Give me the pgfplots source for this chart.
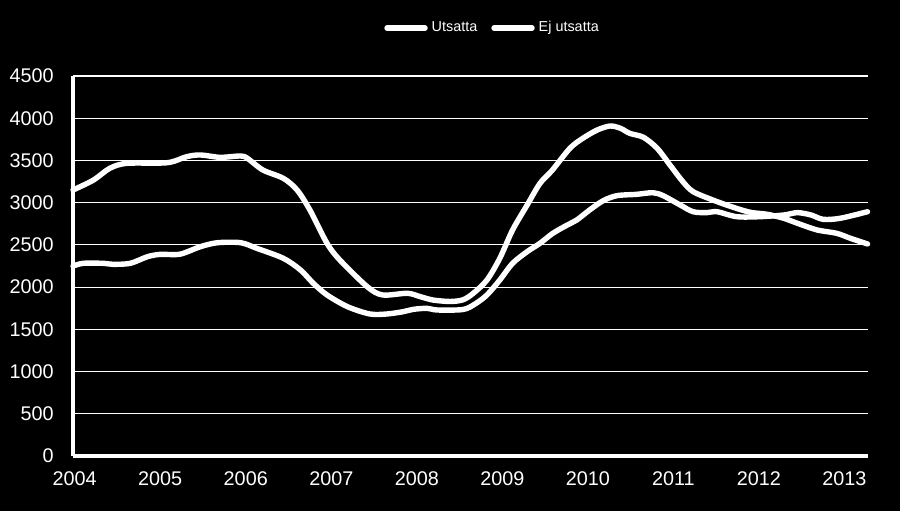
\documentclass[border=0pt]{standalone}
\usepackage{pgfplots}
\pgfplotsset{compat=1.18}
\usepackage{pgfplotstable}
\usepackage{fontspec}
\setmainfont{Liberation Sans}

% monthly series (x = year)
\pgfplotstableread{
x y
2003.98 3150
2004.22 3268
2004.41 3407
2004.61 3466
2005.08 3473
2005.31 3545
2005.47 3565
2005.70 3537
2005.94 3553
2006.02 3525
2006.20 3387
2006.44 3288
2006.60 3150
2006.75 2913
2006.95 2519
2007.10 2321
2007.42 2005
2007.60 1907
2007.89 1927
2008.04 1887
2008.19 1847
2008.39 1830
2008.54 1850
2008.66 1927
2008.82 2084
2008.97 2341
2009.12 2677
2009.29 2972
2009.44 3229
2009.58 3380
2009.79 3644
2009.94 3762
2010.11 3861
2010.26 3908
2010.38 3881
2010.49 3821
2010.65 3774
2010.81 3644
2010.96 3446
2011.11 3249
2011.23 3131
2011.46 3032
2011.70 2945
2011.90 2886
2012.10 2862
2012.29 2815
2012.45 2756
2012.68 2677
2012.91 2637
2013.07 2578
2013.27 2511
}\utsatta

\pgfplotstableread{
x y
2003.98 2250
2004.10 2282
2004.33 2282
2004.45 2270
2004.65 2282
2004.85 2360
2005.00 2388
2005.23 2390
2005.47 2479
2005.67 2526
2005.94 2526
2006.13 2459
2006.44 2341
2006.64 2203
2006.79 2045
2006.95 1907
2007.19 1768
2007.45 1682
2007.65 1682
2007.84 1709
2007.96 1737
2008.12 1749
2008.24 1729
2008.54 1735
2008.68 1800
2008.82 1907
2008.97 2084
2009.12 2282
2009.29 2420
2009.44 2519
2009.59 2637
2009.76 2736
2009.87 2795
2010.02 2913
2010.18 3024
2010.34 3083
2010.57 3099
2010.76 3118
2010.88 3083
2011.08 2972
2011.23 2893
2011.39 2882
2011.51 2893
2011.74 2834
2012.01 2834
2012.29 2854
2012.45 2882
2012.61 2854
2012.75 2803
2012.95 2815
2013.27 2893
}\ejutsatta

\begin{document}
\begin{tikzpicture}
\fill[black] (-36.5pt,-27.5pt) rectangle (413.5pt,228pt);
\begin{axis}[
    scale only axis,
    width=397.5pt, height=190pt,
    xmin=2003.98, xmax=2013.275,
    ymin=0, ymax=4500,
    xtick={2004,2005,...,2013},
    ytick={0,500,...,4500},
    /pgf/number format/1000 sep={},
    /pgf/number format/assume math mode=true,
    axis lines*=left,
    axis line style={-, white, line width=1.6pt},
    major tick length=0pt,
    ymajorgrids,
    grid style={white, line width=0.55pt},
    ticklabel style={text=white, font=\fontsize{9.9}{11}\selectfont},
    yticklabel style={inner sep=0pt, xshift=-9.5pt},
    xticklabel style={inner sep=0pt, yshift=-7.5pt},
    clip=false,
    legend columns=2,
    legend style={at={(0.529,1.126)}, anchor=center, draw=none, fill=none,
        text=white, font=\fontsize{7.2}{8}\selectfont,
        /tikz/every even column/.append style={column sep=5pt}},
    legend image code/.code={\draw[#1, line cap=round] (0pt,0pt) -- (19pt,0pt);},
]
\addplot[white, line width=2.7pt, smooth, tension=0.5, line cap=round] table[x=x, y=y] {\utsatta};
\addlegendentry{Utsatta}
\addplot[white, line width=2.7pt, smooth, tension=0.5, line cap=round] table[x=x, y=y] {\ejutsatta};
\addlegendentry{Ej utsatta}
\end{axis}
\pgfresetboundingbox
\useasboundingbox (-36.5pt,-27.5pt) rectangle (413.5pt,228pt);
\end{tikzpicture}
\end{document}
